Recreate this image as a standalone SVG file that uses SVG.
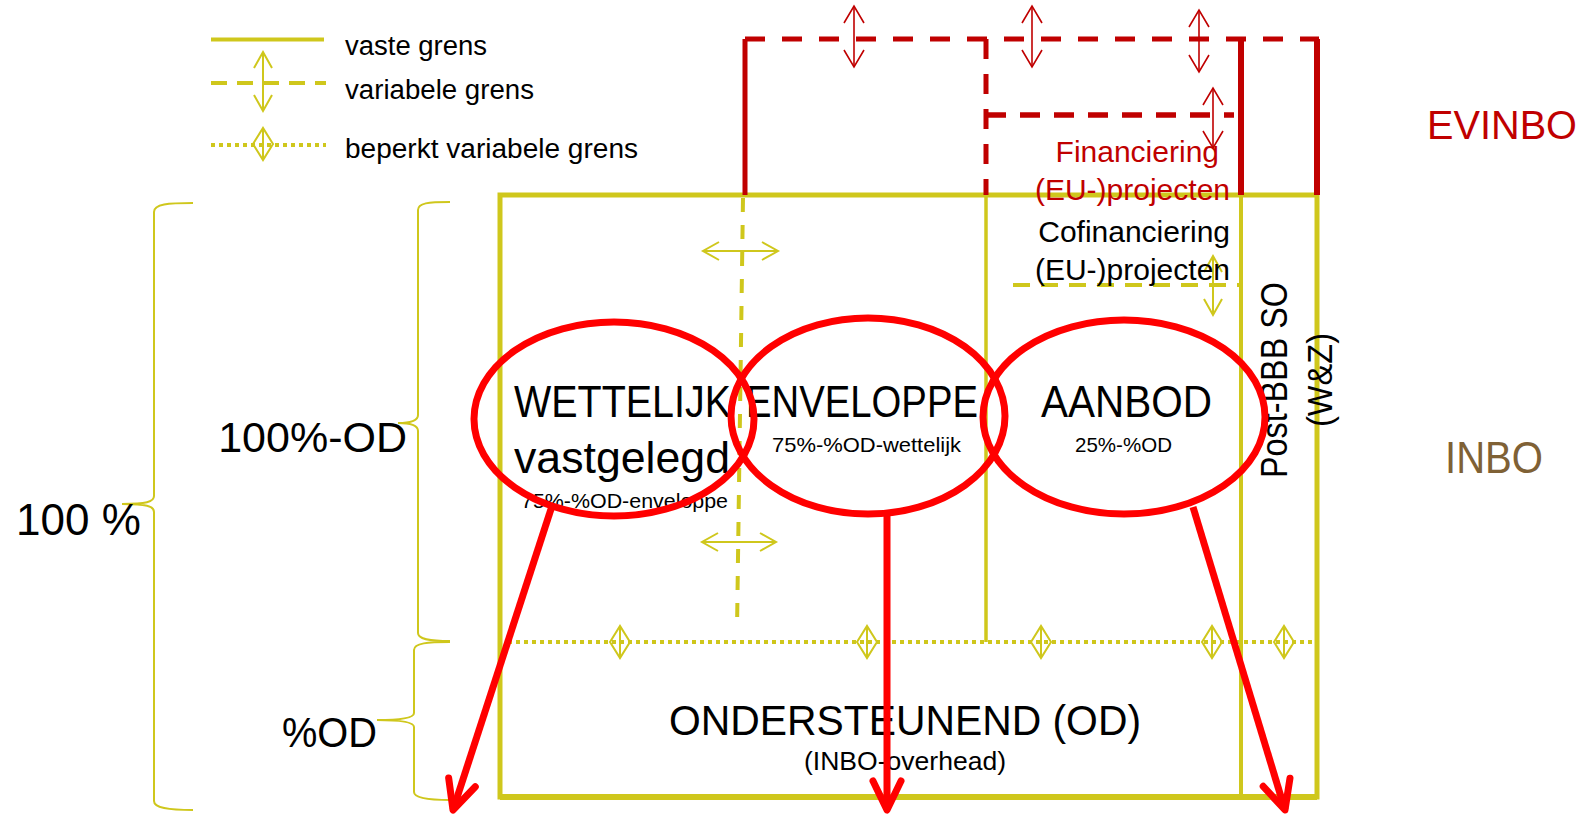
<svg xmlns="http://www.w3.org/2000/svg" width="1588" height="814" viewBox="0 0 1588 814">
<style>
text{font-family:"Liberation Sans",Arial,sans-serif;fill:#000}
.y{stroke:#CFC71C;fill:none}
.r{stroke:#C00000;fill:none}
.big{font-size:44px}
.sm{font-size:21px}
.leg{font-size:27px}
.ell{fill:none;stroke:#FF0000;stroke-width:7}
.conn{stroke:#FF0000;stroke-width:7;fill:none}
</style>
<defs>
<marker id="ya" markerUnits="userSpaceOnUse" orient="auto-start-reverse" overflow="visible" refX="0" refY="0" markerWidth="1" markerHeight="1">
<path d="M-16,-9 L0,0 L-16,9" fill="none" stroke="#CFC71C" stroke-width="2"/>
</marker>
<marker id="ra" markerUnits="userSpaceOnUse" orient="auto-start-reverse" overflow="visible" refX="0" refY="0" markerWidth="1" markerHeight="1">
<path d="M-17,-10 L0,0 L-17,10" fill="none" stroke="#C00000" stroke-width="1.6"/>
</marker>
<marker id="big" markerUnits="userSpaceOnUse" orient="auto" overflow="visible" refX="0" refY="0" markerWidth="1" markerHeight="1">
<path d="M-29,-14 L0,0 L-29,14" fill="none" stroke="#FF0000" stroke-width="7" stroke-linecap="round" stroke-linejoin="round"/>
</marker>
<g id="dia">
<path d="M-10,0 L0,-16 L10,0 L0,16 Z M0,-16 V16" fill="none" stroke="#CFC71C" stroke-width="2"/>
</g>
</defs>
<rect width="1588" height="814" fill="#fff"/>

<g id="legend">
<path class="y" d="M211,39.5 H324" stroke-width="4"/>
<path class="y" d="M211,83 H326" stroke-width="4" stroke-dasharray="16 10"/>
<path class="y" d="M263,52 V111" stroke-width="2" marker-start="url(#ya)" marker-end="url(#ya)"/>
<path class="y" d="M211,145 H326" stroke-width="4" stroke-dasharray="4 4"/>
<use href="#dia" x="263" y="144"/>
<text class="leg" x="345" y="55" textLength="142" lengthAdjust="spacingAndGlyphs">vaste grens</text>
<text class="leg" x="345" y="99" textLength="189" lengthAdjust="spacingAndGlyphs">variabele grens</text>
<text class="leg" x="345" y="158" textLength="293" lengthAdjust="spacingAndGlyphs">beperkt variabele grens</text>
</g>

<g id="braces">
<path class="y" stroke-width="2" d="M193,203 C168,203 154,204 154,212 V496 C154,502 146,504 122,504 C146,504 154,506 154,512 V801 C154,808 168,810 193,810"/>
<path class="y" stroke-width="2" d="M450,202 C428,202 418,203 418,210 V415 C418,421 410,423 398,423 C410,423 418,425 418,431 V633 C418,639 428,641 450,641"/>
<path class="y" stroke-width="2" d="M450,642 C428,642 414,643 414,650 V713 C414,718 400,720 377,720 C400,720 414,722 414,727 V792 C414,798 428,800 450,800"/>
<text class="big" x="16" y="535">100 %</text>
<text x="407" y="452" text-anchor="end" style="font-size:43px">100%-OD</text>
<text x="282" y="747" style="font-size:43px" textLength="95" lengthAdjust="spacingAndGlyphs">%OD</text>
</g>

<g id="inbo-frame">
<path class="y" d="M500,195 H1317 V797 H500 Z" stroke-width="5"/>
<path class="y" d="M500,797 H1317" stroke-width="6"/>
<path class="y" d="M986,195 V642" stroke-width="3.5"/>
<path class="y" d="M1241,195 V797" stroke-width="4"/>
<path class="y" d="M743,198 L737,630" stroke-width="4" stroke-dasharray="14 13"/>
<path class="y" d="M508,642 H1312" stroke-width="4" stroke-dasharray="4 4"/>
<path class="y" d="M1013,285 H1240" stroke-width="4" stroke-dasharray="17 11"/>
<path class="y" d="M703,251 H778" stroke-width="2" marker-start="url(#ya)" marker-end="url(#ya)"/>
<path class="y" d="M702,542 H776" stroke-width="2" marker-start="url(#ya)" marker-end="url(#ya)"/>
<path class="y" d="M1213,256 V315" stroke-width="2" marker-start="url(#ya)" marker-end="url(#ya)"/>
<use href="#dia" x="620" y="642"/>
<use href="#dia" x="867" y="642"/>
<use href="#dia" x="1041" y="642"/>
<use href="#dia" x="1212" y="642"/>
<use href="#dia" x="1284" y="642"/>
</g>

<g id="evinbo-frame">
<path class="r" d="M745,39 H1319" stroke-width="5" stroke-dasharray="20 17"/>
<path class="r" d="M745,39 V195" stroke-width="5"/>
<path class="r" d="M986,39 V195" stroke-width="5" stroke-dasharray="20 15"/>
<path class="r" d="M986,115 H1234" stroke-width="5.5" stroke-dasharray="20 14"/>
<path class="r" d="M1241,39 V195" stroke-width="6"/>
<path class="r" d="M1317,39 V195" stroke-width="6"/>
<path class="r" d="M854,6 V67" stroke-width="1.6" marker-start="url(#ra)" marker-end="url(#ra)"/>
<path class="r" d="M1032,6 V67" stroke-width="1.6" marker-start="url(#ra)" marker-end="url(#ra)"/>
<path class="r" d="M1199,10 V72" stroke-width="1.6" marker-start="url(#ra)" marker-end="url(#ra)"/>
<path class="r" d="M1213,88 V148" stroke-width="1.6" marker-start="url(#ra)" marker-end="url(#ra)"/>
</g>

<g id="financiering">
<text x="1219" y="162" text-anchor="end" style="font-size:30px;fill:#C00000">Financiering</text>
<text x="1230" y="200" text-anchor="end" style="font-size:30px;fill:#C00000">(EU-)projecten</text>
<text x="1230" y="242" text-anchor="end" style="font-size:30px">Cofinanciering</text>
<text x="1230" y="280" text-anchor="end" style="font-size:30px">(EU-)projecten</text>
</g>

<g id="wettelijk">
<text class="big" x="514" y="417" textLength="217" lengthAdjust="spacingAndGlyphs">WETTELIJK</text>
<text class="big" x="514" y="473" textLength="216" lengthAdjust="spacingAndGlyphs">vastgelegd</text>
<text class="sm" x="521" y="508" textLength="207" lengthAdjust="spacingAndGlyphs">75%-%OD-enveloppe</text>
</g>

<g id="enveloppe">
<text class="big" x="746" y="417" textLength="232" lengthAdjust="spacingAndGlyphs">ENVELOPPE</text>
<text class="sm" x="772" y="452" textLength="189" lengthAdjust="spacingAndGlyphs">75%-%OD-wettelijk</text>
</g>

<g id="aanbod">
<text class="big" x="1041" y="417" textLength="171" lengthAdjust="spacingAndGlyphs">AANBOD</text>
<text class="sm" x="1075" y="452" textLength="97" lengthAdjust="spacingAndGlyphs">25%-%OD</text>
</g>

<g id="post-bbb">
<text transform="translate(1287,380) rotate(-90)" text-anchor="middle" style="font-size:37px" textLength="196" lengthAdjust="spacingAndGlyphs">Post-BBB SO</text>
<text transform="translate(1332,380) rotate(-90)" text-anchor="middle" style="font-size:35px" textLength="94" lengthAdjust="spacingAndGlyphs">(W&amp;Z)</text>
</g>

<g id="ondersteunend">
<text x="669" y="735" style="font-size:42px" textLength="472" lengthAdjust="spacingAndGlyphs">ONDERSTEUNEND (OD)</text>
<text x="804" y="770" style="font-size:26px" textLength="202" lengthAdjust="spacingAndGlyphs">(INBO-overhead)</text>
</g>

<g id="labels-right">
<text x="1427" y="139" style="font-size:41px;fill:#C00000" textLength="150" lengthAdjust="spacingAndGlyphs">EVINBO</text>
<text class="big" x="1445" y="473" style="fill:#7F6135" textLength="98" lengthAdjust="spacingAndGlyphs">INBO</text>
</g>

<g id="ellipses">
<ellipse class="ell" cx="614" cy="419" rx="140" ry="97"/>
<ellipse class="ell" cx="868" cy="416" rx="137" ry="98"/>
<ellipse class="ell" cx="1124" cy="417" rx="141" ry="97"/>
</g>

<g id="connectors">
<path class="conn" d="M552,506 L453,810" marker-end="url(#big)"/>
<path class="conn" d="M887,516 L887,810" marker-end="url(#big)"/>
<path class="conn" d="M1193,507 L1285,810" marker-end="url(#big)"/>
</g>
</svg>
